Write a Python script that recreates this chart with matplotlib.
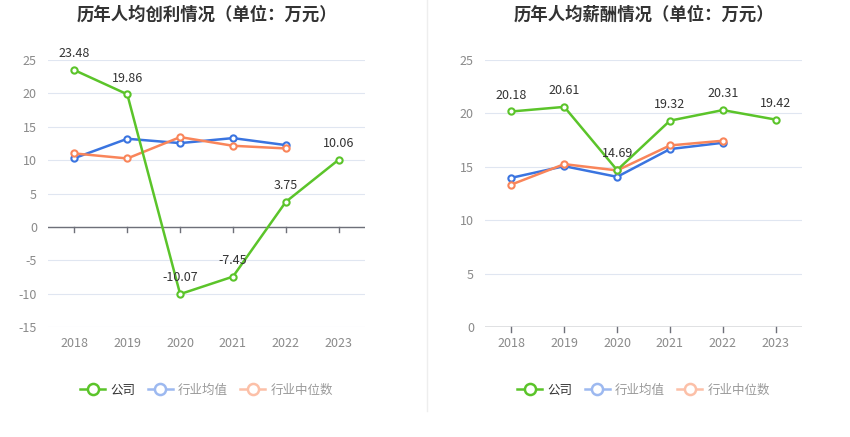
import numpy as np
import matplotlib
matplotlib.use("Agg")
import matplotlib.pyplot as plt
from matplotlib.lines import Line2D

plt.rcParams["font.family"] = ["Noto Sans CJK SC", "DejaVu Sans"]

years = ["2018", "2019", "2020", "2021", "2022", "2023"]

# 人均创利
profit_company = [23.48, 19.86, -10.07, -7.45, 3.75, 10.06]
profit_avg = [10.3, 13.2, 12.55, 13.3, 12.25]
profit_median = [11.0, 10.25, 13.45, 12.15, 11.75]

# 人均薪酬
salary_company = [20.18, 20.61, 14.69, 19.32, 20.31, 19.42]
salary_avg = [13.97, 15.06, 14.06, 16.66, 17.25]
salary_median = [13.34, 15.25, 14.66, 17.0, 17.44]

titles = ["历年人均创利情况（单位：万元）", "历年人均薪酬情况（单位：万元）"]
legend_names = ["公司", "行业均值", "行业中位数"]

green = "#5BC42A"
blue = "#3A74E0"
orange = "#F9855A"
blue_l = "#9DB9F0"
orange_l = "#FCC0A8"

fig = plt.figure(figsize=(8.5, 4.37), dpi=100)

panels = [
    (0.0565, profit_company, profit_avg, profit_median, (-15, 25), [-15, -10, -5, 0, 5, 10, 15, 20, 25], titles[0]),
    (0.5706, salary_company, salary_avg, salary_median, (0, 25), [0, 5, 10, 15, 20, 25], titles[1]),
]

for x0, comp, avg, med, ylim, yt, title in panels:
    ax = fig.add_axes([x0, 0.2517, 0.373, 0.611])
    x = np.arange(len(years))
    xa = np.arange(len(avg))
    for vals, xs, c, z in [(avg, xa, blue, 3), (med, xa, orange, 4), (comp, x, green, 5)]:
        ax.plot(xs, vals, color=c, lw=1.8, marker="o", ms=4.5, mfc="white",
                mec=c, mew=1.5, zorder=z, clip_on=False)
    for xi, v in zip(x, comp):
        ax.annotate(f"{v:.2f}", (xi, v), xytext=(0, 7), textcoords="offset points",
                    ha="center", va="bottom", fontsize=9, color="#333333", zorder=6)
    ax.set_xlim(-0.5, len(years) - 0.5)
    ax.set_ylim(*ylim)
    ax.set_yticks(yt)
    ax.set_yticklabels([str(t) for t in yt])
    ax.set_xticks(x)
    ax.set_xticklabels(years)
    ax.grid(axis="y", color="#E0E6F1", lw=0.8)
    ax.set_axisbelow(True)
    for s in ["top", "right", "left", "bottom"]:
        ax.spines[s].set_visible(False)
    ax.axhline(0, color="#6E7079", lw=1, zorder=2)
    ax.tick_params(axis="y", length=0, labelsize=9, labelcolor="#8a8a8a", pad=8)
    ax.tick_params(axis="x", length=0, labelsize=9, labelcolor="#8a8a8a", pad=7)
    # tick marks at zero line
    trans = ax.get_xaxis_transform()
    yz = (0 - ylim[0]) / (ylim[1] - ylim[0])
    for xi in x:
        ax.plot([xi, xi], [yz, yz - 0.018], transform=trans, color="#6E7079", lw=1, clip_on=False)
    fig.text(x0 + 0.373 / 2, 0.967, title, ha="center", va="center", fontsize=12.5,
             fontweight="bold", color="#333333")
    handles = [
        Line2D([], [], color=green, lw=1.8, marker="o", ms=8, mfc="white", mew=1.8),
        Line2D([], [], color=blue_l, lw=1.8, marker="o", ms=8, mfc="white", mew=1.8),
        Line2D([], [], color=orange_l, lw=1.8, marker="o", ms=8, mfc="white", mew=1.8),
    ]
    leg = fig.legend(handles, legend_names, loc="center", bbox_to_anchor=(x0 + 0.373 / 2, 0.107),
                     ncol=3, frameon=False, fontsize=9, handlelength=2.0, handletextpad=0.4,
                     columnspacing=1.0)
    for t, c in zip(leg.get_texts(), ["#333333", "#9a9a9a", "#9a9a9a"]):
        t.set_color(c)

fig.add_artist(Line2D([0.5024, 0.5024], [0.06, 1.0], color="#EEEEEE", lw=1))

fig.savefig("out.png", dpi=100)
